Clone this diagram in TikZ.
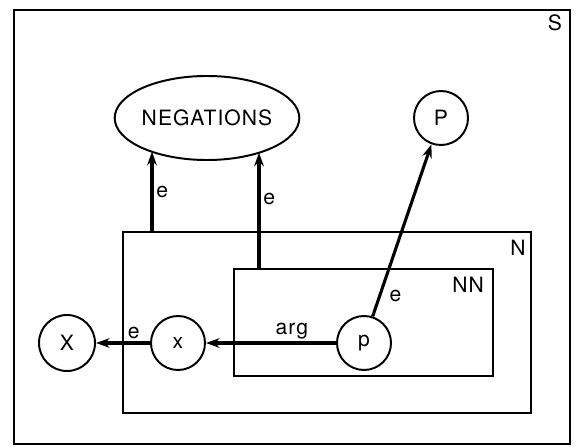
\documentclass[tikz,border=0pt]{standalone}
\usepackage{fontspec}
\setmainfont[LetterSpace=5]{TeX Gyre Heros}
\usetikzlibrary{arrows.meta,shapes.geometric}

\begin{document}
\begin{tikzpicture}[
    x=0.025cm, y=-0.025cm,
    font=\fontsize{15}{17}\selectfont,
    negframe/.style={draw=black, line width=1.8pt, line join=miter},
    negnode/.style={draw=black, fill=white, line width=1.4pt, circle, minimum size=1.35cm, inner sep=0pt},
    negoval/.style={draw=black, fill=white, line width=1.4pt, ellipse, minimum width=4.2cm, minimum height=2.1cm, inner sep=0pt},
    negarrow/.style={draw=black, line width=2.2pt, -{Stealth[length=3.4mm,width=2.4mm]}},
    neglabel/.style={inner sep=2pt}
]
  \useasboundingbox (0,0) rectangle (577,446);
  % boxes S, N, NN
  \draw[negframe] (14,10) rectangle (570,444);
  \draw[negframe] (123,232) rectangle (531,413);
  \draw[negframe] (234,269) rectangle (493,376);
  \node[neglabel] (slab) at (555,23) {S};
  \node[neglabel] (nlab) at (518,248) {N};
  \node[neglabel] (nnlab) at (468,285) {NN};

  \node[negoval] (neg) at (207,118) {NEGATIONS};
  \node[negnode] (P) at (441,118) {P};
  \node[negnode, minimum size=1.4cm] (X) at (67,343) {X};
  \node[negnode] (x) at (178,343) {x};
  \node[negnode] (p) at (364,343) {p};

  \coordinate (ntop) at (152,232);
  \coordinate (nntop) at (259,269);

  \draw[negarrow] (ntop) -- (ntop |- neg.210) node[midway, right, neglabel] {e};
  \draw[negarrow] (nntop) -- (nntop |- neg.328) node[pos=0.6, right, neglabel] {e};
  \draw[negarrow] (p.72) -- (P.250) node[pos=0.12, right=4pt, neglabel] {e};
  \draw[negarrow] (x) -- (X) node[pos=0.3, above, neglabel] {e};
  \draw[negarrow] (p) -- (x) node[pos=0.34, above, neglabel] {arg};
\end{tikzpicture}
\end{document}
